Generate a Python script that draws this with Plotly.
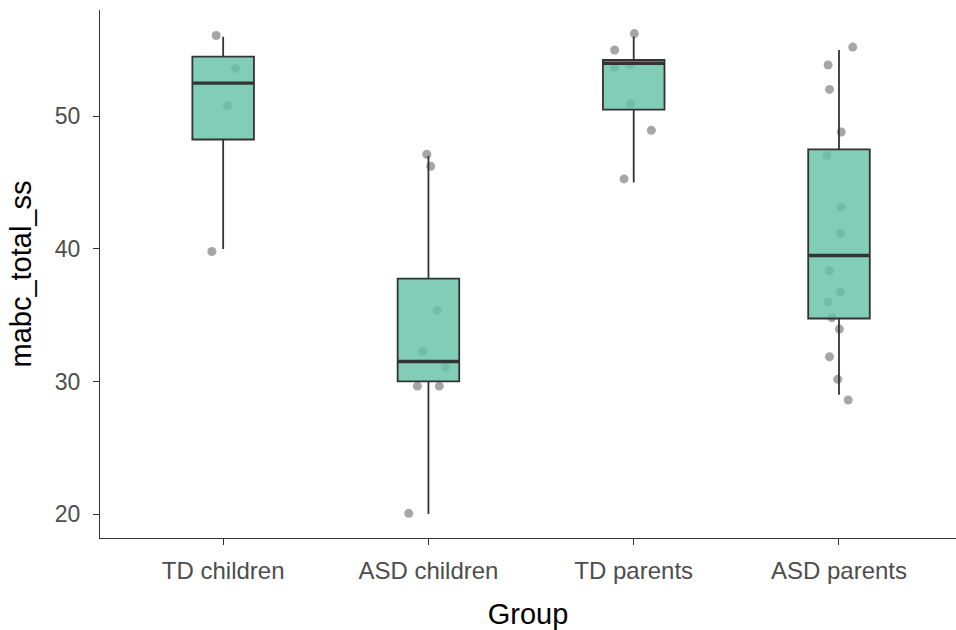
import plotly.graph_objects as go

# ---- data ----
groups = ["TD children", "ASD children", "TD parents", "ASD parents"]

# box statistics per group
whisker_low = [40.0, 20.0, 45.0, 29.0]
q1_vals = [48.25, 30.0, 50.5, 34.75]
median_vals = [52.5, 31.5, 54.0, 39.5]
q3_vals = [54.5, 37.75, 54.25, 47.5]
whisker_high = [56.0, 47.0, 56.0, 55.0]

# individual (jittered) observations
td_children_vals = [56.1, 53.6, 50.8, 39.8]
td_children_jit = [-0.034, 0.060, 0.021, -0.055]

asd_children_vals = [20.05, 47.14, 46.23, 35.36, 32.27, 31.06, 29.65, 29.65]
asd_children_jit = [-0.096, -0.008, 0.011, 0.043, -0.028, 0.082, -0.054, 0.053]

td_parents_vals = [56.24, 55.0, 53.72, 53.9, 50.96, 48.95, 45.28]
td_parents_jit = [0.003, -0.093, -0.093, -0.017, -0.015, 0.086, -0.047]

asd_parents_vals = [55.22, 53.87, 52.03, 48.82, 47.04, 43.14, 41.16, 38.35,
                    36.72, 36.01, 34.81, 33.95, 31.86, 30.16, 28.6]
asd_parents_jit = [0.067, -0.053, -0.046, 0.011, -0.059, 0.011, 0.007, -0.046,
                   0.007, -0.053, -0.035, 0.002, -0.046, -0.006, 0.045]

y_ticks = [20, 30, 40, 50]

# ---- figure ----
BOX_W = 0.3
FONT = "Liberation Sans, Arial, sans-serif"
positions = list(range(1, len(groups) + 1))

fig = go.Figure()

point_sets = [
    (td_children_vals, td_children_jit),
    (asd_children_vals, asd_children_jit),
    (td_parents_vals, td_parents_jit),
    (asd_parents_vals, asd_parents_jit),
]
px, py = [], []
for pos, (vals, jit) in zip(positions, point_sets):
    px += [pos + j for j in jit]
    py += vals

fig.add_trace(go.Scatter(
    x=px, y=py, mode="markers",
    marker=dict(size=9, color="rgba(128,128,128,0.7)", line=dict(width=0)),
    xaxis="x", yaxis="y", showlegend=False, hoverinfo="skip",
))

fig.add_trace(go.Box(
    x=positions, q1=q1_vals, median=median_vals, q3=q3_vals,
    lowerfence=whisker_low, upperfence=whisker_high,
    width=BOX_W, whiskerwidth=0,
    fillcolor="rgba(102,194,165,0.82)",
    line=dict(color="#333333", width=1.8),
    boxpoints=False, xaxis="x2", yaxis="y2", showlegend=False,
))

mx, my = [], []
for pos, m in zip(positions, median_vals):
    mx += [pos - BOX_W / 2, pos + BOX_W / 2, None]
    my += [m, m, None]
fig.add_trace(go.Scatter(
    x=mx, y=my, mode="lines", line=dict(color="#333333", width=3.4),
    xaxis="x2", yaxis="y2", showlegend=False, hoverinfo="skip",
))

XR = [0.4, 4.57]
YR = [18.19, 58.02]

axis_common = dict(
    showline=True, linecolor="#333333", linewidth=1.3,
    ticks="outside", ticklen=6, tickwidth=1.3, tickcolor="#333333",
    showgrid=False, zeroline=False, automargin=False,
)

fig.update_layout(
    width=956, height=630,
    margin=dict(l=100, r=0, t=10, b=92),
    paper_bgcolor="white", plot_bgcolor="white",
    font=dict(family=FONT),
    xaxis=dict(
        range=XR, tickmode="array", tickvals=positions, ticktext=groups,
        tickfont=dict(family=FONT, size=24, color="#4D4D4D"),
        ticklabelstandoff=5,
        title=dict(text="Group", font=dict(family=FONT, size=29, color="black"), standoff=22),
        **axis_common,
    ),
    yaxis=dict(
        range=YR, tickmode="array", tickvals=y_ticks,
        tickfont=dict(family=FONT, size=23, color="#4D4D4D"),
        ticklabelstandoff=8,
        title=dict(text="mabc_total_ss", font=dict(family=FONT, size=29, color="black"), standoff=14),
        **axis_common,
    ),
    xaxis2=dict(range=XR, overlaying="x", visible=False, matches="x"),
    yaxis2=dict(range=YR, overlaying="y", visible=False, matches="y"),
)

fig.write_html(
    "out.html",
    config={"displayModeBar": False},
    post_script="document.body.style.margin='0';document.body.style.overflow='hidden';",
)
